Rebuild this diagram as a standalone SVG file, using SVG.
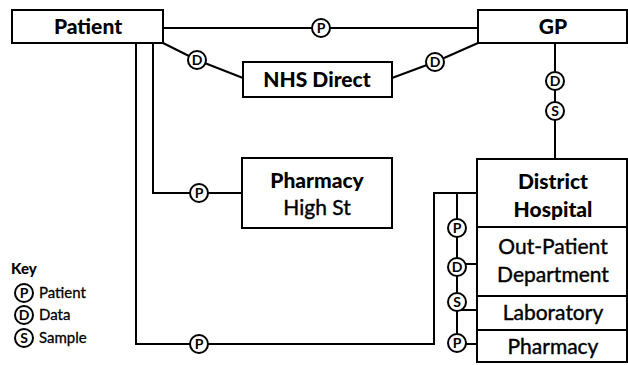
<svg xmlns="http://www.w3.org/2000/svg" width="628" height="365" viewBox="0 0 628 365">
<style>
.box{fill:#fff;stroke:#000;stroke-width:2}
.ln{fill:none;stroke:#000;stroke-width:2}
.c{fill:#fff;stroke:#000;stroke-width:2}
.cl{font-family:Lato,"Open Sans",sans-serif;font-size:14px;font-weight:bold;text-anchor:middle;fill:#000}
.t{font-family:Lato,"Open Sans",sans-serif;font-size:21px;font-weight:900;text-anchor:middle;fill:#000}
.r{font-family:Lato,"Open Sans",sans-serif;font-size:21px;font-weight:normal;text-anchor:middle;fill:#000;stroke:#000;stroke-width:0.4}
.k{font-family:Lato,"Open Sans",sans-serif;font-size:15px;font-weight:normal;fill:#000;stroke:#000;stroke-width:0.3}
.kh{font-family:Lato,"Open Sans",sans-serif;font-size:15px;font-weight:900;fill:#000}
</style>
<defs>
<g id="P"><circle class="c" r="9"/><text class="cl" y="5">P</text></g>
<g id="D"><circle class="c" r="9"/><text class="cl" y="5">D</text></g>
<g id="S"><circle class="c" r="9"/><text class="cl" y="5">S</text></g>
</defs>
<g id="connectors">
<line class="ln" x1="163" y1="28" x2="478" y2="28"/>
<polyline class="ln" points="163,43 197,60 243,78"/>
<polyline class="ln" points="392,78 435,62 478,43"/>
<line class="ln" x1="555" y1="43" x2="555" y2="159"/>
<polyline class="ln" points="153,43 153,193 242,193"/>
<polyline class="ln" points="136,43 136,344 434,344 434,193 477,193"/>
<line class="ln" x1="457" y1="193" x2="457" y2="344"/>
<line class="ln" x1="457" y1="264" x2="477" y2="264"/>
<line class="ln" x1="457" y1="310" x2="477" y2="310"/>
<line class="ln" x1="457" y1="344" x2="477" y2="344"/>
<use href="#P" x="321" y="28"/>
<use href="#D" x="197" y="60"/>
<use href="#D" x="435" y="62"/>
<use href="#D" x="555" y="81"/>
<use href="#S" x="555" y="111"/>
<use href="#P" x="199" y="193"/>
<use href="#P" x="199" y="344"/>
<use href="#P" x="457" y="228"/>
<use href="#D" x="457" y="267"/>
<use href="#S" x="457" y="302"/>
<use href="#P" x="457" y="343"/>
</g>
<g id="patient"><rect class="box" x="12" y="10" width="151" height="33"/><text class="t" x="88" y="34">Patient</text></g>
<g id="gp"><rect class="box" x="478" y="10" width="149" height="33"/><text class="t" x="553" y="34">GP</text></g>
<g id="nhs-direct"><rect class="box" x="243" y="62" width="149" height="35"/><text class="t" x="317" y="87">NHS Direct</text></g>
<g id="pharmacy-high-st"><rect class="box" x="242" y="158" width="150" height="70"/><text class="t" x="317" y="188">Pharmacy</text><text class="r" x="317" y="215">High St</text></g>
<g id="district-hospital">
<rect class="box" x="477" y="159" width="150" height="203"/>
<line class="ln" x1="477" y1="227" x2="627" y2="227"/>
<line class="ln" x1="477" y1="296" x2="627" y2="296"/>
<line class="ln" x1="477" y1="330" x2="627" y2="330"/>
<text class="t" x="553" y="189">District</text><text class="t" x="553" y="217">Hospital</text>
<text class="r" x="553" y="254">Out-Patient</text><text class="r" x="553" y="282">Department</text>
<text class="r" x="553" y="320">Laboratory</text>
<text class="r" x="553" y="354">Pharmacy</text>
</g>
<g id="key">
<text class="kh" x="11" y="274">Key</text>
<use href="#P" x="24" y="293"/><text class="k" x="39" y="298">Patient</text>
<use href="#D" x="24" y="315"/><text class="k" x="39" y="320">Data</text>
<use href="#S" x="24" y="338"/><text class="k" x="39" y="343">Sample</text>
</g>
</svg>
